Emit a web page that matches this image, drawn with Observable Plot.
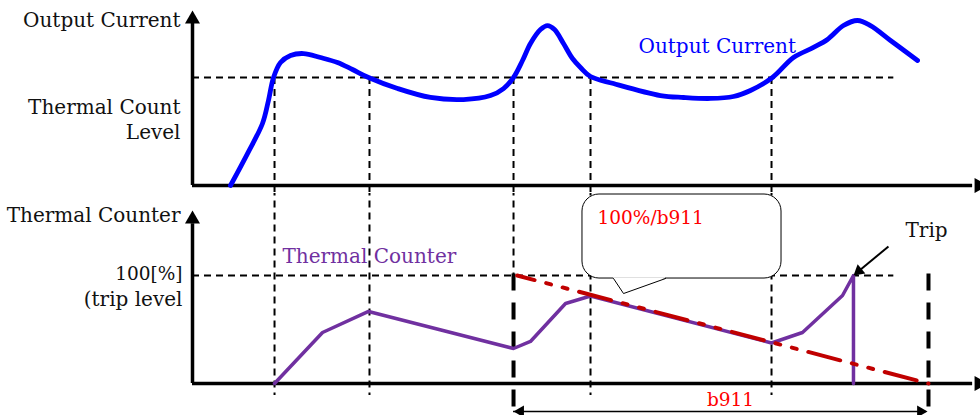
<!DOCTYPE html>
<html><head><meta charset="utf-8">
<script src="https://cdn.jsdelivr.net/npm/d3@7"></script>
<script src="https://cdn.jsdelivr.net/npm/@observablehq/plot@0.6"></script>
<style>
body{margin:0;background:#fff;}
#chart svg{display:block;}
</style></head><body><div id="chart"></div>
<script>
const FONT = "DejaVu Serif";

// ---------- data (time in arbitrary units, levels in %) ----------
const currentT = [4.82, 6.98, 8.88, 9.64, 10.28, 11.17, 12.44, 14.09, 16.24, 18.40, 20.30, 22.34, 26.02, 30.20, 34.39, 37.82, 39.47, 40.74, 41.88, 42.89, 44.16, 45.05, 45.94, 47.08, 48.22, 49.24, 50.51, 53.43, 59.39, 62.31, 65.74, 68.65, 70.81, 73.60, 76.27, 78.81, 80.58, 82.61, 84.39, 86.04, 88.58, 92.01];
const currentV = [0, 29.6, 57.4, 78.7, 100, 113.9, 120.4, 122.2, 118.5, 113.9, 107.4, 100, 89.8, 81.5, 79.6, 83.3, 89.8, 100, 115.7, 131.5, 144.4, 148.1, 144.4, 131.5, 117.6, 109.3, 100.9, 94.4, 83.3, 81.5, 80.6, 82.4, 88.0, 100, 118.5, 127.8, 135.2, 148.1, 152.8, 148.1, 134.3, 115.7];

const counterT = [10.41, 16.5, 22.34, 40.74, 42.89, 47.34, 50.51, 73.48, 77.41, 82.49, 83.88, 83.88];
const counterV = [0, 47.2, 66.7, 32.4, 38.9, 74.1, 81, 37.5, 47.2, 81.5, 100, 0];

const eventT = [10.41, 22.46, 40.74, 50.51, 73.48];   // crossings of the thermal count level
const thermalLevel = 100;
const tripLevel = 100;
const levelLineEnd = 89;
const b911Start = 40.74;
const b911End = 93.4;
const decayT = [41.2, 93.4];
const decayV = [100, 0];

// text labels
const topLabels = [
  {t: -1.52, v: 147.2, text: "Output Current"},
  {t: -1.52, v: 43.5, text: "Thermal Count\nLevel"}
];
const topSeriesLabel = [{t: 56.6, v: 123.1, text: "Output Current"}];
const bottomLabels = [
  {t: -1.52, v: 149.1, text: "Thermal Counter"},
  {t: -1.27, v: 72.2, text: "(trip level"}
];
const percentLabel = [{t: -1.27, v: 95.4, text: "100[%]"}];
const counterLabel = [{t: 11.42, v: 112, text: "Thermal Counter"}];
const slopeLabel = [{t: 51.4, v: 148.1, text: "100%/b911"}];
const tripLabel = [{t: 90.48, v: 135.2, text: "Trip"}];
const b911Label = [{t: 68.27, v: -20.4, text: "b911"}];

// callout bubble
const calloutBox = [{x1: 49.49, x2: 74.75, y1: 97.2, y2: 175}];
const calloutTailT = [53.43, 54.70, 60.03];
const calloutTailV = [97.2, 83.3, 97.2];

// arrows
const tripArrow = [{x1: 88.32, y1: 126.9, x2: 84.56, y2: 104.1}];
const tripHead = [{t: 84.56, v: 104.1, rot: 230}];
const b911ArrowV = -25.9;
const b911Heads = [{t: 41.62, v: -25.9, rot: 270}, {t: 92.40, v: -25.9, rot: 90}];
const topAxisHeads = [{t: 0, v: 154.0, rot: 0}, {t: 99.8, v: 0, rot: 90}];
const bottomAxisHeads = [{t: 0, v: 152.2, rot: 0}, {t: 99.8, v: 0, rot: 90}];

// ---------- build ----------
const current = currentT.map((t, i) => ({t, v: currentV[i]}));
const counter = counterT.map((t, i) => ({t, v: counterV[i]}));
const decay = decayT.map((t, i) => ({t, v: decayV[i]}));
const tail = calloutTailT.map((t, i) => ({t, v: calloutTailV[i]}));

const xScale = {domain: [0, 100], range: [192, 980], axis: null};
const dash = {stroke: "black", strokeWidth: 2, strokeDasharray: "7,5"};
const WORD = 20, NUM = 18.5;

const topPlot = Plot.plot({
  width: 980, height: 193, margin: 0,
  x: xScale,
  y: {domain: [0, 100], range: [185, 77], axis: null},
  style: {fontFamily: FONT, background: "white"},
  marks: [
    Plot.ruleY([thermalLevel], {x1: () => 0, x2: () => levelLineEnd, ...dash}),
    Plot.ruleX(eventT, {x: d => d, y1: () => thermalLevel, y2: () => -12, ...dash}),
    Plot.ruleX([0], {x: d => d, y1: () => 0, y2: () => 150, stroke: "black", strokeWidth: 3.5}),
    Plot.ruleY([0], {y: d => d, x1: () => 0, x2: () => 99, stroke: "black", strokeWidth: 3.5}),
    Plot.dot(topAxisHeads, {x: "t", y: "v", rotate: "rot", symbol: "triangle", r: 5.57, fill: "black", stroke: null}),
    Plot.line(current, {x: "t", y: "v", stroke: "#0000ff", strokeWidth: 4.8, curve: "catmull-rom", strokeLinecap: "round"}),
    Plot.text(topLabels, {x: "t", y: "v", text: "text", textAnchor: "end", lineAnchor: "bottom", lineHeight: 1.25, fontSize: WORD, fill: "#111"}),
    Plot.text(topSeriesLabel, {x: "t", y: "v", text: "text", textAnchor: "start", lineAnchor: "bottom", fontSize: WORD, fill: "#0000ff"})
  ]
});

const bottomPlot = Plot.plot({
  width: 980, height: 222, margin: 0,
  x: xScale,
  y: {domain: [0, 100], range: [190, 82], axis: null},
  style: {fontFamily: FONT, background: "white"},
  marks: [
    Plot.ruleY([tripLevel], {x1: () => 0, x2: () => levelLineEnd, ...dash}),
    Plot.ruleX(eventT, {x: d => d, y1: () => 180, y2: d => d === b911Start ? tripLevel : -11.1, ...dash}),
    Plot.ruleX([b911Start, b911End], {x: d => d, y1: () => 101.5, y2: () => -26.9, stroke: "black", strokeWidth: 4, strokeDasharray: "17,12"}),
    Plot.ruleX([0], {x: d => d, y1: () => 0, y2: () => 148, stroke: "black", strokeWidth: 3.5}),
    Plot.ruleY([0], {y: d => d, x1: () => 0, x2: () => 99, stroke: "black", strokeWidth: 3.5}),
    Plot.dot(bottomAxisHeads, {x: "t", y: "v", rotate: "rot", symbol: "triangle", r: 5.57, fill: "black", stroke: null}),
    Plot.line(counter, {x: "t", y: "v", stroke: "#7030a0", strokeWidth: 3.5}),
    Plot.rect(calloutBox, {x1: "x1", x2: "x2", y1: "y1", y2: "y2", rx: 17, fill: "white", stroke: "black", strokeWidth: 1}),
    Plot.areaY(tail, {x: "t", y1: () => 98, y2: "v", fill: "white", stroke: null}),
    Plot.line(tail, {x: "t", y: "v", stroke: "black", strokeWidth: 1}),
    Plot.line(decay, {x: "t", y: "v", stroke: "#c00000", strokeWidth: 4, strokeDasharray: "33,12,5,12,5,12", strokeDashoffset: 15}),
    Plot.ruleY([b911ArrowV], {y: d => d, x1: () => b911Start, x2: () => b911End - 0.3, stroke: "black", strokeWidth: 1.6}),
    Plot.dot(b911Heads, {x: "t", y: "v", rotate: "rot", symbol: "triangle", r: 4.45, fill: "black", stroke: null}),
    Plot.link(tripArrow, {x1: "x1", y1: "y1", x2: "x2", y2: "y2", stroke: "black", strokeWidth: 2}),
    Plot.dot(tripHead, {x: "t", y: "v", rotate: "rot", symbol: "triangle", r: 4.45, fill: "black", stroke: null}),
    Plot.text(bottomLabels, {x: "t", y: "v", text: "text", textAnchor: "end", lineAnchor: "bottom", fontSize: WORD, fill: "#111"}),
    Plot.text(percentLabel, {x: "t", y: "v", text: "text", textAnchor: "end", lineAnchor: "bottom", fontSize: NUM, fill: "#111"}),
    Plot.text(counterLabel, {x: "t", y: "v", text: "text", textAnchor: "start", lineAnchor: "bottom", fontSize: WORD, fill: "#7030a0"}),
    Plot.text(slopeLabel, {x: "t", y: "v", text: "text", textAnchor: "start", lineAnchor: "bottom", fontSize: NUM, fill: "#ff0000"}),
    Plot.text(tripLabel, {x: "t", y: "v", text: "text", textAnchor: "start", lineAnchor: "bottom", fontSize: WORD, fill: "#111"}),
    Plot.text(b911Label, {x: "t", y: "v", text: "text", textAnchor: "middle", lineAnchor: "bottom", fontSize: NUM, fill: "#ff0000"})
  ]
});

const root = document.getElementById("chart");
root.appendChild(topPlot);
root.appendChild(bottomPlot);
</script></body></html>
